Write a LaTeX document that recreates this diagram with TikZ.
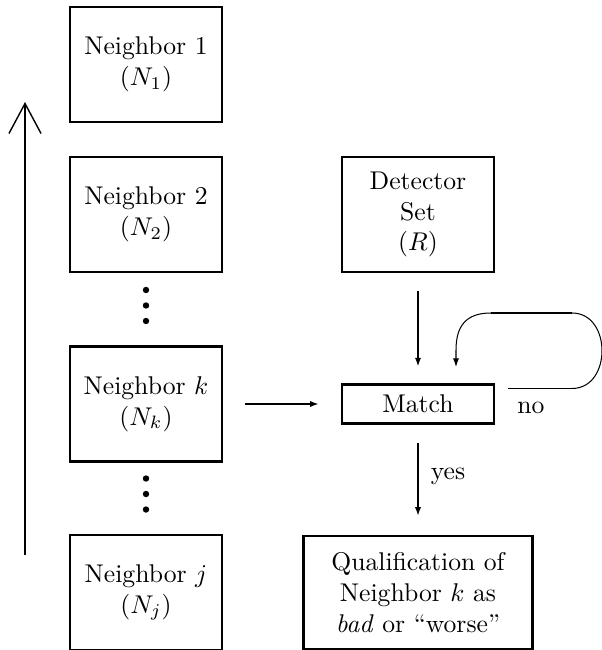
\documentclass[tikz,border=0pt]{standalone}
\usetikzlibrary{arrows.meta}
\begin{document}
\begin{tikzpicture}[x=0.39pt,y=-0.39pt,
  box/.style={draw,line width=0.8pt,inner sep=0pt,align=center,minimum width=59.3pt,minimum height=44.85pt},
  matchbox/.style={box,minimum height=15.2pt},
  qualbox/.style={box,minimum width=89.3pt,minimum height=44.1pt},
  dotnode/.style={circle,fill,inner sep=0pt,minimum size=2.5pt},
  conn/.style={line width=0.65pt,-{Latex[length=3.4pt,width=2.4pt]}},
  loopline/.style={line width=0.65pt},
  loopcurve/.style={line width=0.4pt},
  bigarrow/.style={line width=1.1pt,-{Straight Barb[length=11.7pt,width=12.5pt,line width=0.55pt]}},
  lbl/.style={inner sep=0pt}]
\useasboundingbox (0,0) rectangle (602,650);
% neighbour column
\node[box] (n1) at (146,64.5) {Neighbor 1\\($N_1$)};
\node[box] (n2) at (146,214.5) {Neighbor 2\\($N_2$)};
\node[box] (nk) at (146,404) {Neighbor $k$\\($N_k$)};
\node[box] (nj) at (146,592.5) {Neighbor $j$\\($N_j$)};
\node[dotnode] (d1) at (146,290) {};
\node[dotnode] (d2) at (146,305.5) {};
\node[dotnode] (d3) at (146,321) {};
\node[dotnode] (d4) at (146,478.5) {};
\node[dotnode] (d5) at (146,494) {};
\node[dotnode] (d6) at (146,509.5) {};
% right column
\node[box] (det) at (418,214.5) {Detector\\Set\\($R$)};
\node[matchbox] (match) at (418,404) {Match};
\node[qualbox] (qual) at (418,592.5) {Qualification of\\Neighbor $k$ as\\\emph{bad} or ``worse''};
% labels
\node[lbl] (no) at (531,408) {no};
\node[lbl] (yes) at (448,476) {yes};
% connectors
\draw[conn,shorten <=8.6pt,shorten >=8.6pt] (nk.east) -- (match.west);
\draw[conn,shorten <=7pt,shorten >=6.6pt] (det.south) -- (match.north);
\draw[conn,shorten <=7.4pt,shorten >=7.4pt] (match.south) -- (qual.north);
% loop
\coordinate (l1) at (508,388.5);
\coordinate (l2) at (572,388.5);
\coordinate (l3) at (572,313);
\coordinate (l4) at (491,313);
\coordinate (le) at (456,367);
\draw[loopline] (l1) -- (l2);
\draw[loopcurve] (l2) .. controls (612,388.5) and (612,313) .. (l3);
\draw[loopline] (l3) -- (l4);
\draw[loopcurve,-{Latex[length=3.4pt,width=2.4pt]}] (l4) .. controls (466,313) and (456,326) .. (456,350) -- (le);
% big arrow
\coordinate (bb) at (25,555);
\coordinate (bt) at (25,102);
\draw[bigarrow] (bb) -- (bt);
\end{tikzpicture}
\end{document}
